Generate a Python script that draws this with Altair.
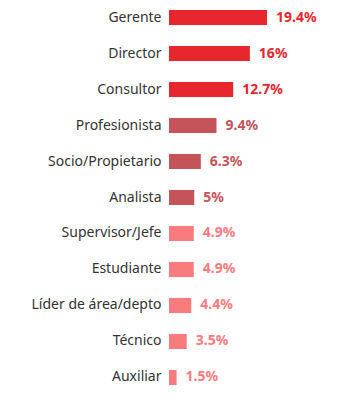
import altair as alt
import pandas as pd

categories = ["Gerente", "Director", "Consultor", "Profesionista", "Socio/Propietario",
              "Analista", "Supervisor/Jefe", "Estudiante", "Líder de área/depto",
              "Técnico", "Auxiliar"]
values = [19.4, 16, 12.7, 9.4, 6.3, 5, 4.9, 4.9, 4.4, 3.5, 1.5]
labels = ["19.4%", "16%", "12.7%", "9.4%", "6.3%", "5%", "4.9%", "4.9%", "4.4%", "3.5%", "1.5%"]
groups = ["A", "A", "A", "B", "B", "B", "C", "C", "C", "C", "C"]
group_colors = ["#E8262D", "#C4545A", "#F97B7E"]

df = pd.DataFrame({"cat": categories, "val": values, "lab": labels, "grp": groups})

y = alt.Y("cat:N", sort=categories, title=None,
          scale=alt.Scale(paddingInner=0.583, paddingOuter=0),
          axis=alt.Axis(domain=False, ticks=False, grid=False, labelFontSize=14,
                        labelFont="Noto Sans", labelColor="#333333", labelPadding=8))
x = alt.X("val:Q", title=None, scale=alt.Scale(domain=[0, 37]), axis=None)
color = alt.Color("grp:N", scale=alt.Scale(domain=["A", "B", "C"], range=group_colors), legend=None)

bars = alt.Chart(df).mark_bar().encode(x=x, y=y, color=color)
text = alt.Chart(df).mark_text(align="left", baseline="middle", dx=9, fontSize=14,
                               fontWeight="bold", font="Noto Sans").encode(
    x=x, y=y, text="lab:N", color=color)

chart = (bars + text).properties(
    width=187, height=375,
    autosize=alt.AutoSizeParams(type="none"),
    padding={"left": 161, "top": 2, "right": 0, "bottom": 4},
).configure_view(stroke=None)

chart.save("out.html", embed_options={"renderer": "svg", "actions": False})
